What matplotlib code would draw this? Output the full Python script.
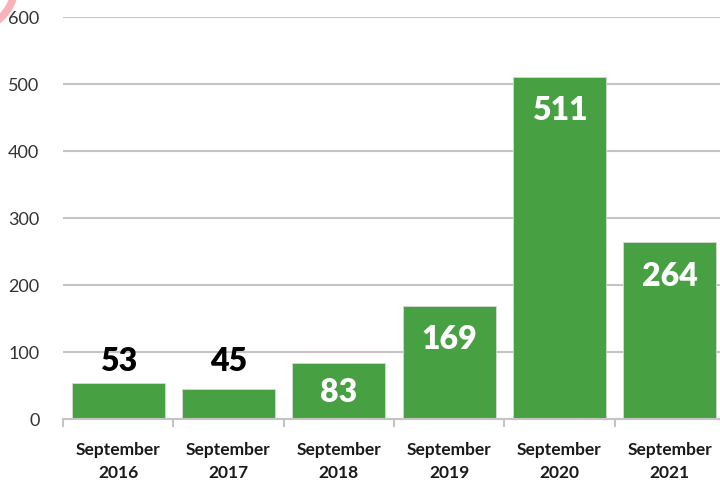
import matplotlib.pyplot as plt
from matplotlib.patches import Ellipse

# data
years = ["2016", "2017", "2018", "2019", "2020", "2021"]
counts = [53, 45, 83, 169, 511, 264]
y_ticks = [0, 100, 200, 300, 400, 500, 600]

GREEN = "#47a143"
GRID = "#c4c4c4"
FONT = ["Lato", "DejaVu Sans"]

plt.rcParams["font.family"] = FONT

fig = plt.figure(figsize=(7.2, 4.81), dpi=100)
ax = fig.add_axes([63 / 720, 61 / 481, 662 / 720, 402 / 481])

x = list(range(len(years)))
bars = ax.bar(x, counts, width=0.845, color=GREEN, edgecolor="#d8d8d8",
              linewidth=0.6, zorder=3)

ax.set_xlim(-0.5, len(years) - 0.5)
ax.set_ylim(0, 600)
ax.set_yticks(y_ticks)
ax.set_yticklabels([str(t) for t in y_ticks], fontsize=13, color="#333333")
ax.tick_params(axis="y", length=0, pad=17)
ax.yaxis.grid(True, color=GRID, linewidth=1.5, zorder=0)
ax.set_axisbelow(True)

for side in ["left", "right", "top"]:
    ax.spines[side].set_visible(False)
ax.spines["bottom"].set_color(GRID)
ax.spines["bottom"].set_linewidth(1.5)
ax.spines["bottom"].set_zorder(4)

# category labels centred, tick marks on boundaries
ax.set_xticks(x)
ax.set_xticklabels(["September\n" + y for y in years], fontsize=12.5,
                   fontweight="bold", color="#1a1a1a", linespacing=1.55)
ax.tick_params(axis="x", length=0, pad=16)
ax.set_xticks([i - 0.5 for i in range(len(years) + 1)], minor=True)
ax.tick_params(axis="x", which="minor", length=6, width=1.5, color=GRID)

# value labels
small = [v for v in counts if v < 60]
for i, v in enumerate(counts):
    if v < 60:
        ax.annotate(str(v), (i, max(small)), xytext=(0, 23), textcoords="offset pixels",
                    ha="center", va="center", fontsize=23, fontweight="heavy",
                    color="black", zorder=5)
    elif v < 120:
        ax.text(i, v / 2, str(v), ha="center", va="center", fontsize=23,
                fontweight="heavy", color="white", zorder=5)
    else:
        ax.annotate(str(v), (i, v), xytext=(0, -33), textcoords="offset pixels",
                    ha="center", va="center", fontsize=23, fontweight="heavy",
                    color="white", zorder=5)

# pink arc peeking in at the corner
fig.patches.append(Ellipse((-30 / 720, 1 + 14 / 481), 2 * 45 / 720, 2 * 45 / 481,
                           transform=fig.transFigure, fill=False,
                           edgecolor="#f9b3b8", linewidth=5.5))

fig.savefig("out.png", dpi=100)
